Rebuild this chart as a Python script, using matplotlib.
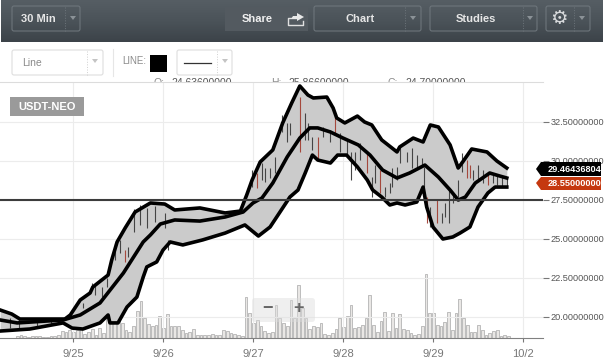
import numpy as np
import matplotlib
matplotlib.use('Agg')
import matplotlib.pyplot as plt
from matplotlib.patches import FancyBboxPatch, Rectangle, Polygon

plt.rcParams['font.family'] = ['Liberation Sans', 'DejaVu Sans']

# Bollinger style bands: day offset from 9/25, price
upper_x = [-0.81, -0.68, -0.59, -0.48, -0.14, -0.09, -0.03, 0.08, 0.19, 0.22, 0.39, 0.43, 0.49, 0.58, 0.69, 0.86,
           1.02, 1.13, 1.41, 1.69, 1.86, 1.93, 1.99, 2.08, 2.22, 2.33, 2.43, 2.52, 2.61, 2.67, 2.82, 2.89, 2.93,
           3.02, 3.16, 3.24, 3.32, 3.43, 3.60, 3.63, 3.78, 3.89, 3.97, 4.06, 4.19, 4.28, 4.33, 4.43, 4.60, 4.71, 4.82]
upper_y = [20.45, 20.19, 19.87, 19.87, 19.87, 19.87, 20.13, 21.09, 21.54, 21.92, 22.69, 23.65, 24.81, 25.71, 26.73, 27.31,
           27.24, 26.86, 26.99, 26.67, 26.79, 27.82, 28.78, 29.94, 30.71, 32.44, 33.72, 34.81, 34.23, 34.04, 34.10, 33.40, 32.76,
           32.44, 32.88, 32.50, 32.31, 31.35, 30.58, 30.90, 31.47, 31.22, 32.31, 32.18, 31.03, 29.55, 29.94, 30.77, 30.58, 30.00, 29.55]

mid_x = [-0.81, -0.62, -0.11, 0.08, 0.30, 0.56, 0.78, 0.86, 0.97, 1.13, 1.41, 1.69, 1.89, 2.00, 2.10, 2.22, 2.38, 2.52,
         2.63, 2.72, 2.86, 3.00, 3.17, 3.30, 3.44, 3.60, 3.74, 3.91, 4.06, 4.19, 4.28, 4.36, 4.47, 4.63, 4.74, 4.82]
mid_y = [19.81, 19.62, 19.81, 20.13, 20.90, 22.82, 24.81, 25.26, 25.96, 26.22, 26.15, 26.41, 26.73, 27.31, 27.63, 28.59, 30.26, 31.47,
         32.12, 32.12, 31.86, 31.47, 31.03, 30.38, 29.42, 28.91, 29.23, 29.74, 28.97, 28.14, 27.50, 27.69, 28.59, 29.23, 29.04, 28.91]

lower_x = [-0.81, -0.48, -0.11, -0.01, 0.11, 0.30, 0.39, 0.41, 0.50, 0.60, 0.71, 0.78, 0.82, 0.93, 1.00, 1.08, 1.22, 1.44,
           1.69, 1.91, 2.06, 2.19, 2.30, 2.41, 2.50, 2.58, 2.66, 2.72, 2.86, 2.94, 3.04, 3.16, 3.27, 3.33, 3.43, 3.52, 3.60,
           3.69, 3.82, 3.89, 3.93, 4.00, 4.11, 4.22, 4.30, 4.41, 4.50, 4.61, 4.69, 4.82]
lower_y = [19.10, 19.23, 19.62, 19.29, 19.23, 19.62, 20.13, 19.62, 19.62, 20.64, 21.28, 22.56, 23.21, 23.53, 24.29, 24.81, 24.62, 24.94,
           25.38, 25.90, 25.19, 25.77, 26.73, 27.69, 28.14, 29.23, 30.38, 30.06, 29.87, 30.38, 30.38, 29.62, 28.78, 28.14, 27.69, 27.18, 27.31,
           27.18, 27.37, 28.33, 27.05, 25.77, 25.00, 25.13, 25.38, 25.77, 27.05, 27.95, 28.33, 28.33]

# price wicks
wick_x = [-0.70, -0.60, -0.40, -0.25, 0.11, 0.21, 0.24, 0.32, 0.38, 0.47, 0.52, 0.58, 0.61, 0.68, 0.74, 0.82, 0.91, 1.02, 1.06,
          1.99, 2.04, 2.10, 2.13, 2.19, 2.24, 2.32, 2.38, 2.41, 2.52, 2.58, 2.61, 2.66, 2.72, 2.78, 2.86, 2.91, 2.97, 3.04, 3.09,
          3.13, 3.19, 3.27, 3.32, 3.36, 3.41, 3.47, 3.52, 3.54, 3.60, 3.63, 3.71, 3.77, 3.82, 3.88, 3.90, 3.93, 3.97, 4.04, 4.10,
          4.13, 4.18, 4.22, 4.28, 4.32, 4.38, 4.41, 4.44, 4.50, 4.56, 4.61, 4.67, 4.71, 4.77, 4.82]
wick_hi = [19.95, 19.85, 19.95, 19.95, 20.9, 22.2, 22.05, 21.9, 22.5, 24.75, 24.95, 24.3, 24.5, 26.9, 27.2, 27.0, 27.1, 26.65, 24.95,
           29.42, 29.2, 29.9, 29.55, 29.55, 30.25, 32.95, 32.45, 32.45, 34.1, 33.1, 32.45, 31.55, 31.55, 32.2, 32.0, 32.8, 31.8, 31.35, 30.6,
           30.6, 31.15, 30.5, 28.95, 29.75, 29.4, 28.35, 28.6, 29.55, 29.6, 31.05, 30.6, 30.85, 30.4, 30.2, 29.6, 27.7, 27.05, 27.5, 26.65,
           27.3, 28.35, 27.95, 28.8, 30.5, 30.05, 29.75, 29.4, 29.75, 29.4, 29.25, 29.1, 29.05, 29.0, 29.0]
wick_lo = [19.3, 19.2, 19.4, 19.5, 20.6, 21.7, 21.4, 21.3, 21.9, 23.65, 24.1, 23.5, 23.85, 25.45, 25.9, 25.7, 26.1, 25.7, 24.3,
           28.33, 28.3, 28.8, 28.65, 28.9, 29.2, 31.85, 31.2, 31.65, 30.6, 31.35, 31.35, 30.7, 30.05, 31.55, 31.2, 31.8, 30.6, 30.4, 28.8,
           29.4, 30.05, 29.25, 27.7, 28.6, 27.95, 27.7, 27.95, 28.35, 28.8, 29.85, 29.95, 29.55, 29.55, 29.6, 28.35, 26.05, 25.75, 26.05, 26.05,
           26.4, 26.05, 27.3, 27.7, 29.3, 28.9, 28.9, 28.8, 28.8, 28.6, 28.45, 28.6, 28.45, 28.35, 28.35]
wick_red = [2.52, 2.72, 2.91, 3.27, 3.41, 3.93, 4.04, 4.38, 4.41, 0.58, 4.61, 2.04]

# hourly volume, first bar at day -0.62
volume = [2, 3, 2, 1, 2, 2, 2, 1, 1, 2, 2, 3,
          7, 6, 8, 6, 8, 10, 4, 6, 9,
          3, 10, 5, 37, 30, 43, 42,
          15, 8, 6, 12, 27, 37, 20, 14,
          12, 13, 22, 10, 24, 12, 12, 12,
          8, 5, 6, 9, 3, 3, 3, 3, 4, 3, 3, 8, 7, 5, 4, 3, 2,
          41, 25, 15, 18, 12, 7, 5, 6, 33, 20, 15, 12, 38, 20, 53, 30, 20,
          9, 12, 11, 15, 4, 3, 5, 9, 20, 11, 22, 33, 10, 11, 13,
          20, 43, 13, 6, 17, 26, 7, 25, 10, 24, 9, 8, 5, 3, 4, 12, 64,
          25, 25, 13, 12, 16, 26, 8, 25, 39, 20, 13, 6, 6, 13, 8, 3, 5, 7, 8, 2, 3, 2]
volume_start = -0.62

price_ticks = [20.0, 22.5, 25.0, 27.5, 30.0, 32.5]
date_ticks = [0, 1, 2, 3, 4, 5]
date_labels = ['9/25', '9/26', '9/27', '9/28', '9/29', '10/2']
drawn_line = 27.5
last_bb = 29.46436804
last_price = 28.55

W, H = 615, 364
fig = plt.figure(figsize=(W / 100, H / 100), dpi=100, facecolor='white')


def px_axes(zorder):
    a = fig.add_axes([0, 0, 1, 1], zorder=zorder)
    a.set_xlim(0, W)
    a.set_ylim(H, 0)
    a.axis('off')
    return a


def button(a, x0, x1, y0, y1, fc='none', ec='#6d757b'):
    a.add_patch(FancyBboxPatch((x0 + 2, y0 + 2), x1 - x0 - 4, y1 - y0 - 4, boxstyle='round,pad=2',
                               fc=fc, ec=ec, lw=0.8))


def caret(a, x, y, c='#8b9297'):
    a.add_patch(Polygon([(x - 3, y - 2), (x + 3, y - 2), (x, y + 2)], fc=c, ec='none'))


# page chrome behind the plot
bg = px_axes(0)
grad = np.linspace(0, 1, 64).reshape(-1, 1)
cmap = matplotlib.colors.LinearSegmentedColormap.from_list('bar', ['#565e64', '#4b5359', '#3c4349'])
bg.imshow(grad, extent=(1, 603, 42, 0), cmap=cmap, aspect='auto', zorder=1)
bg.set_xlim(0, W)
bg.set_ylim(H, 0)

button(bg, 12, 80, 6, 31)
bg.plot([65, 65], [7, 31], color='#6d757b', lw=0.7, ls=':')
caret(bg, 73, 18)
bg.text(38.5, 19, '30 Min', color='#e6e6e6', fontsize=8, fontweight='bold', ha='center', va='center')

bg.add_patch(Rectangle((225, 7), 83, 24, fc='#535a60', ec='none', zorder=2))
bg.text(257, 19, 'Share', color='#f0f0f0', fontsize=8, fontweight='bold', ha='center', va='center', zorder=3)
# share icon
bg.plot([297, 288, 288, 303, 303], [18, 18, 25, 25, 21], color='#e0e0e0', lw=1, zorder=3)
bg.add_patch(Polygon([(297, 13), (304, 17), (297, 21), (297, 19), (291, 19), (293, 16), (297, 16)],
                     fc='#e8e8e8', ec='none', zorder=3))

button(bg, 314, 421, 6, 31)
bg.plot([405, 405], [7, 31], color='#6d757b', lw=0.7, ls=':')
caret(bg, 413, 18)
bg.text(360, 19, 'Chart', color='#e6e6e6', fontsize=8, fontweight='bold', ha='center', va='center')

button(bg, 430, 537, 6, 31)
bg.plot([523, 523], [7, 31], color='#6d757b', lw=0.7, ls=':')
caret(bg, 530, 18)
bg.text(476, 19, 'Studies', color='#e6e6e6', fontsize=8, fontweight='bold', ha='center', va='center')

button(bg, 546, 590, 6, 31)
bg.plot([574, 574], [7, 31], color='#6d757b', lw=0.7, ls=':')
caret(bg, 582, 18)
bg.text(559, 18.5, '\u2699', color='#d8dadc', fontsize=14, family='DejaVu Sans', ha='center', va='center')

# line style row
button(bg, 12, 103, 50, 75, fc='white', ec='#dedede')
bg.plot([87, 87], [51, 75], color='#cfcfcf', lw=0.7, ls=':')
caret(bg, 95, 61, c='#c4c4c4')
bg.text(22, 63, 'Line', color='#8a8a8a', fontsize=7.5, va='center')
bg.plot([113, 113], [49, 76], color='#e6e6e6', lw=0.8)
bg.text(122, 61.5, 'LINE:', color='#8a8a8a', fontsize=7, va='center')
bg.add_patch(Rectangle((150, 55), 17, 17, fc='black', ec='none'))
button(bg, 177, 232, 50, 75, fc='white', ec='#dedede')
bg.plot([184, 211], [63, 63], color='#333333', lw=0.9)
bg.plot([217, 217], [51, 75], color='#cfcfcf', lw=0.7, ls=':')
caret(bg, 225, 61, c='#c4c4c4')

# OHLC readout, half hidden by the plot
bg.text(153, 83, 'O:', color='#8a8a8a', fontsize=7.5, va='center')
bg.text(171, 83, '24.63600000', color='#555555', fontsize=7.5, va='center')
bg.text(271, 83, 'H:', color='#8a8a8a', fontsize=7.5, va='center')
bg.text(288, 83, '25.86600000', color='#555555', fontsize=7.5, va='center')
bg.text(387, 83, 'C:', color='#8a8a8a', fontsize=7.5, va='center')
bg.text(405, 83, '24.70000000', color='#555555', fontsize=7.5, va='center')

# plot area, 90 px per day and 15.6 px per price unit
left, right, top, bottom = 0, 543, 82, 338
ax = fig.add_axes([left / W, 1 - bottom / H, (right - left) / W, (bottom - top) / H], zorder=1)
ax.set_xlim(-73 / 90, (right - 73) / 90)
ax.set_ylim(20 - (bottom - 317) / 15.6, 20 + (317 - top) / 15.6)
ax.set_facecolor('white')

# volume on its own hidden scale, twinx moves the price ticks so set those after
vol_ax = ax.twinx()
vol_ax.set_ylim(0, bottom - top)
vol_ax.axis('off')
vol_x = volume_start + np.arange(len(volume)) / 24
vol_ax.bar(vol_x, volume, width=1 / 24 * 0.7, color='#e9e7e5', edgecolor='#a8a8a8', linewidth=0.5)

ax.grid(True, color='#ececec', lw=0.8)
ax.set_axisbelow(True)
ax.set_xticks(date_ticks)
ax.set_xticklabels(date_labels, color='#777777', fontsize=8)
ax.yaxis.tick_right()
ax.set_yticks(price_ticks)
ax.set_yticklabels(['%.8f' % p for p in price_ticks], color='#555555', fontsize=6.6)
ax.tick_params(axis='x', length=3, width=0.8, color='#777777', pad=5)
ax.tick_params(axis='y', length=4, width=0.8, color='#777777', pad=1.5)
for s in ['left', 'right']:
    ax.spines[s].set_visible(False)
ax.spines['top'].set_color('#dcdcdc')
ax.spines['bottom'].set_color('#808080')

grid_x = np.union1d(np.union1d(upper_x, lower_x), mid_x)
ax.fill_between(grid_x, np.interp(grid_x, lower_x, lower_y), np.interp(grid_x, upper_x, upper_y),
                color='#cbcbcb', lw=0, zorder=2)
wick_colors = ['#a5483c' if x in wick_red else '#444444' for x in wick_x]
ax.vlines(wick_x, wick_lo, wick_hi, colors=wick_colors, lw=0.8, zorder=3)
for xs, ys in [(upper_x, upper_y), (mid_x, mid_y), (lower_x, lower_y)]:
    ax.plot(xs, ys, color='black', lw=2.6, solid_joinstyle='round', zorder=4)
ax.axhline(drawn_line, color='#3c3c3c', lw=1.5, zorder=5)
ax.set_zorder(2)
vol_ax.set_zorder(1)
ax.patch.set_visible(False)
vol_ax.patch.set_visible(False)
bg.add_patch(Rectangle((left, top), right - left, bottom - top, fc='white', ec='none', zorder=4))

# overlays on top of the plot
top_ax = px_axes(3)
top_ax.add_patch(Rectangle((10, 97), 74, 19, fc='#9a9a9a', ec='none'))
top_ax.text(47, 106.5, 'USDT-NEO', color='white', fontsize=8, fontweight='bold', ha='center', va='center')

top_ax.add_patch(FancyBboxPatch((255, 301), 57, 18, boxstyle='round,pad=3', fc='#dddddd', ec='none', alpha=0.45))
top_ax.text(267.5, 308.5, '\u2212', color='#666666', fontsize=13, fontweight='bold', ha='center', va='center')
top_ax.text(298.5, 308.5, '+', color='#666666', fontsize=13, fontweight='bold', ha='center', va='center')

top_ax.add_patch(Polygon([(536, 169), (541, 162), (601, 162), (601, 176), (541, 176)], fc='black', ec='none'))
top_ax.text(548, 169, '%.8f' % last_bb, color='white', fontsize=6.6, fontweight='bold', va='center')
top_ax.add_patch(Polygon([(536, 183), (541, 177), (601, 177), (601, 190), (541, 190)], fc='#c5380f', ec='none'))
top_ax.text(548, 183.5, '%.8f' % last_price, color='white', fontsize=6.6, fontweight='bold', va='center')

fig.savefig('out.png', dpi=100)
